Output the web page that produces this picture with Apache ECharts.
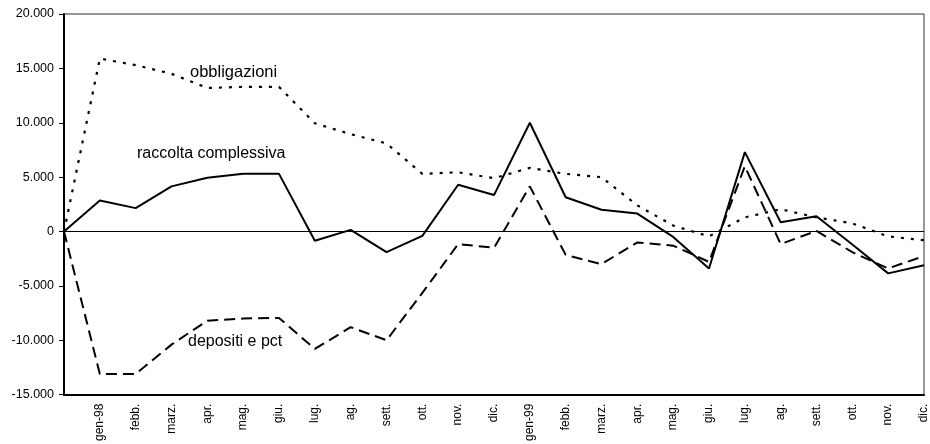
<!DOCTYPE html>
<html>
<head>
<meta charset="utf-8">
<script src="https://cdn.jsdelivr.net/npm/echarts@6/dist/echarts.min.js"></script>
<style>
  html, body { margin: 0; padding: 0; background: #fff; }
  #chart { width: 930px; height: 444px; }
</style>
</head>
<body>
<div id="chart"></div>
<script>
// Monthly flows (first point is the starting zero)
const months = ['', 'gen-98', 'febb.', 'marz.', 'apr.', 'mag.', 'giu.', 'lug.', 'ag.', 'sett.', 'ott.', 'nov.', 'dic.',
  'gen-99', 'febb.', 'marz.', 'apr.', 'mag.', 'giu.', 'lug.', 'ag.', 'sett.', 'ott.', 'nov.', 'dic.'];

const raccolta = [0, 2850, 2150, 4150, 4950, 5300, 5300, -850, 150, -1900, -400, 4300, 3350,
  10000, 3150, 2000, 1650, -500, -3400, 7300, 850, 1400, -1200, -3850, -3100];

const depositi = [0, -13100, -13100, -10400, -8200, -8000, -7950, -10800, -8800, -10000, -5650, -1150, -1500,
  4150, -2150, -3000, -1000, -1300, -2800, 6000, -1150, 50, -1900, -3400, -2250];

const obbligazioni = [0, 15900, 15300, 14500, 13200, 13300, 13300, 9950, 8950, 8100, 5300, 5450, 4900,
  5850, 5300, 5000, 2400, 550, -450, 1300, 2050, 1300, 750, -450, -800];

const yTicks = { min: -15000, max: 20000, step: 5000 };

function fmtThousands(v) {
  const s = Math.abs(v).toString().replace(/\B(?=(\d{3})+(?!\d))/g, '.');
  return (v < 0 ? '-' : '') + s;
}

const FONT = '"Liberation Sans", Arial, sans-serif';

const chart = echarts.init(document.getElementById('chart'), null, { renderer: 'canvas' });

chart.setOption({
  animation: false,
  backgroundColor: '#fff',
  grid: {
    left: 64, right: 6, top: 14, bottom: 48,
    show: true, borderColor: '#333', borderWidth: 1, backgroundColor: 'transparent'
  },
  xAxis: {
    type: 'category',
    data: months,
    boundaryGap: false,
    axisLine: { onZero: false, lineStyle: { color: '#000', width: 2 } },
    axisTick: { show: false },
    axisLabel: {
      rotate: 90, interval: 0, margin: 9,
      fontFamily: FONT, fontSize: 12, color: '#000'
    },
    splitLine: { show: false }
  },
  yAxis: {
    type: 'value',
    min: yTicks.min, max: yTicks.max, interval: yTicks.step,
    axisLine: { show: true, lineStyle: { color: '#000', width: 2 } },
    axisTick: { show: true, length: 5, lineStyle: { color: '#000', width: 1 } },
    axisLabel: {
      margin: 10, fontFamily: FONT, fontSize: 12.5, color: '#000',
      formatter: fmtThousands
    },
    splitLine: { show: false }
  },
  series: [
    {
      name: 'raccolta complessiva', type: 'line', data: raccolta,
      symbol: 'none', lineStyle: { color: '#000', width: 2, type: 'solid' },
      markLine: {
        silent: true, symbol: ['none', 'none'],
        label: { show: false },
        lineStyle: { color: '#000', width: 1, type: 'solid' },
        data: [{ yAxis: 0 }]
      },
      z: 3
    },
    {
      name: 'depositi e pct', type: 'line', data: depositi,
      symbol: 'none', lineStyle: { color: '#000', width: 2, type: [11, 6] },
      z: 2
    },
    {
      name: 'obbligazioni', type: 'line', data: obbligazioni,
      symbol: 'none', lineStyle: { color: '#000', width: 2.2, type: [3, 7] },
      z: 2
    }
  ],
  graphic: [
    { type: 'text', left: 190, top: 64, style: { text: 'obbligazioni', fontFamily: FONT, fontSize: 16.5, fill: '#000' } },
    { type: 'text', left: 137, top: 146, style: { text: 'raccolta complessiva', fontFamily: FONT, fontSize: 16, fill: '#000' } },
    { type: 'text', left: 188, top: 334, style: { text: 'depositi e pct', fontFamily: FONT, fontSize: 16, fill: '#000' } }
  ]
});
</script>
</body>
</html>
